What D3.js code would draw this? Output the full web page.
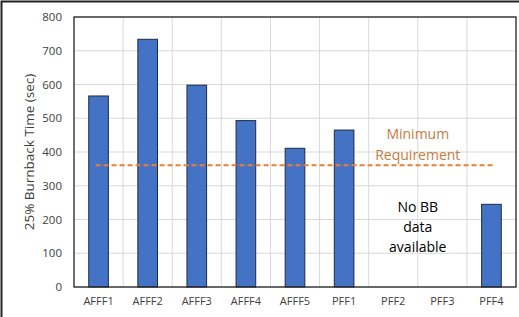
<!DOCTYPE html>
<html>
<head>
<meta charset="utf-8">
<script src="https://cdn.jsdelivr.net/npm/d3@7"></script>
<style>
  body { margin: 0; background: #fff; }
  svg { font-family: "Open Sans", sans-serif; }
</style>
</head>
<body>
<div class="chart"></div>
<script>
// bar data
const categories = ["AFFF1", "AFFF2", "AFFF3", "AFFF4", "AFFF5", "PFF1", "PFF2", "PFF3", "PFF4"];
const burnback = [566, 734, 598, 493, 411, 465, null, null, 245];
const yTicks = [0, 100, 200, 300, 400, 500, 600, 700, 800];
const minRequirement = 361;

let svgWidth = 519, svgHeight = 317;
let margin = { top: 17, right: 3, bottom: 30, left: 74 };
let width = svgWidth - margin.left - margin.right;
let height = svgHeight - margin.top - margin.bottom;

let root = d3.select(".chart").append("svg")
  .attr("width", svgWidth)
  .attr("height", svgHeight);

// outer frame
root.append("path")
  .attr("d", "M1.5," + svgHeight + "V1.5H" + svgWidth)
  .attr("fill", "none")
  .attr("stroke", "#222")
  .attr("stroke-width", 2);

let svg = root.append("g")
  .attr("transform", "translate(" + margin.left + "," + margin.top + ")");

let x = d3.scaleBand().range([0, width]).domain(categories);
let y = d3.scaleLinear().range([height, 0]).domain([0, 800]);

// grid
svg.selectAll(".hgrid").data(yTicks).enter().append("line")
  .attr("x1", 0).attr("x2", width)
  .attr("y1", d => y(d)).attr("y2", d => y(d))
  .attr("stroke", "#d9d9d9");
svg.selectAll(".vgrid").data(categories.slice(1)).enter().append("line")
  .attr("x1", d => x(d)).attr("x2", d => x(d))
  .attr("y1", 0).attr("y2", height)
  .attr("stroke", "#d9d9d9");

// bars
let barW = x.bandwidth() * 0.4;
svg.selectAll(".bar")
  .data(categories.map((c, i) => ({ name: c, v: burnback[i] })).filter(d => d.v != null))
  .enter().append("rect")
  .attr("class", "bar")
  .attr("x", d => x(d.name) + (x.bandwidth() - barW) / 2)
  .attr("width", barW)
  .attr("y", d => y(d.v))
  .attr("height", d => height - y(d.v))
  .attr("fill", "#4472c4")
  .attr("stroke", "#1f2a44")
  .attr("stroke-width", 1);

// minimum requirement line
svg.append("line")
  .attr("x1", x(categories[0]) + x.bandwidth() / 2 - 3)
  .attr("x2", x(categories[8]) + x.bandwidth() / 2 + 2)
  .attr("y1", y(minRequirement)).attr("y2", y(minRequirement))
  .attr("stroke", "#ed7d31")
  .attr("stroke-width", 2)
  .attr("stroke-dasharray", "5,3");

// plot border
svg.append("rect")
  .attr("width", width).attr("height", height)
  .attr("fill", "none").attr("stroke", "#222").attr("stroke-width", 1.3);

// axes
let yAxis = svg.append("g")
  .call(d3.axisLeft(y).tickValues(yTicks).tickSize(0).tickPadding(12));
yAxis.select(".domain").remove();
yAxis.selectAll("text").attr("font-size", 11.5).attr("fill", "#404040")
  .attr("font-family", "'Open Sans', sans-serif");

let xAxis = svg.append("g")
  .attr("transform", "translate(0," + height + ")")
  .call(d3.axisBottom(x).tickSize(0).tickPadding(10));
xAxis.select(".domain").remove();
xAxis.selectAll("text").attr("font-size", 11).attr("fill", "#404040")
  .attr("font-family", "'Open Sans', sans-serif");

// y title
root.append("text")
  .attr("transform", "translate(34," + (margin.top + height / 2) + ") rotate(-90)")
  .attr("text-anchor", "middle")
  .attr("font-size", 13.5)
  .attr("fill", "#404040")
  .text("25% Burnback Time (sec)");

// annotations
let cx = x("PFF3");
svg.append("text")
  .attr("text-anchor", "middle").attr("font-size", 14).attr("fill", "#c67b40")
  .selectAll("tspan").data(["Minimum", "Requirement"]).enter().append("tspan")
  .attr("x", cx).attr("y", (d, i) => y(440) + i * 21)
  .text(d => d);
svg.append("text")
  .attr("text-anchor", "middle").attr("font-size", 14).attr("fill", "#000")
  .selectAll("tspan").data(["No BB", "data", "available"]).enter().append("tspan")
  .attr("x", cx).attr("y", (d, i) => y(222) + i * 20)
  .text(d => d);
</script>
</body>
</html>
